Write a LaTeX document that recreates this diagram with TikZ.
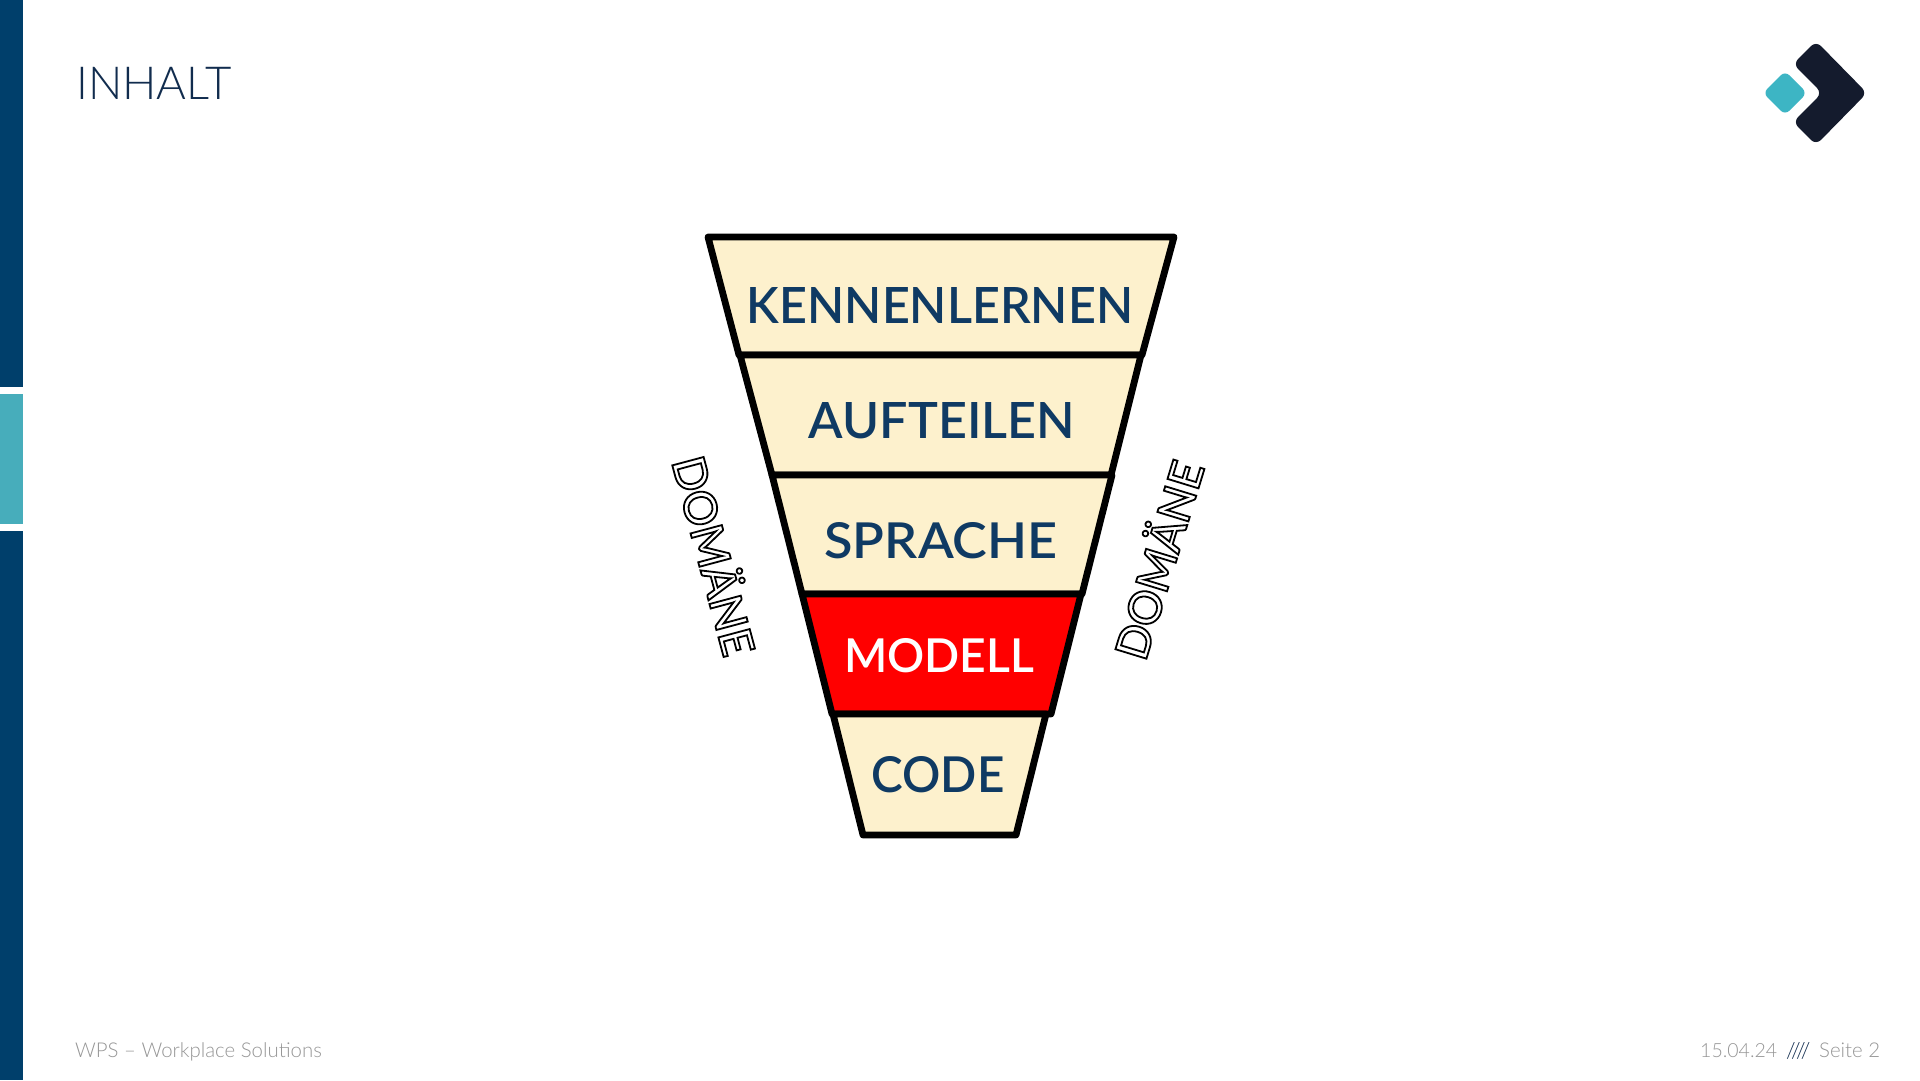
\documentclass[tikz,border=0pt]{standalone}
\usepackage{fontspec}
\usepackage{graphicx}
\setmainfont{Lato}
\newfontfamily\lightf{Lato Light}
\newfontfamily\handf{Lato Semibold}
\definecolor{barblue}{HTML}{003F6B}
\definecolor{barteal}{HTML}{47ADBB}
\definecolor{logoteal}{HTML}{3DB5C4}
\definecolor{logodark}{HTML}{141B2D}
\definecolor{titleblue}{HTML}{112C4E}
\definecolor{labelblue}{HTML}{0F3A63}
\definecolor{cream}{HTML}{FDF1CD}
\definecolor{footgrey}{HTML}{969696}
\definecolor{hot}{HTML}{FF0000}
\newcommand{\fitlabel}[3]{\resizebox{#1pt}{#2pt}{\handf #3}}
\newcommand{\outlinetext}[1]{\special{pdf:code 1 Tr 1.8 w}#1\special{pdf:code 0 Tr 1 w}}
\tikzset{
  layer/.style={draw=black,line width=6.8pt,line join=round,fill=cream},
  layerhot/.style={layer,fill=hot},
  layertext/.style={inner sep=0pt,text=labelblue},
  sidelabel/.style={inner sep=0pt,font=\handf\fontsize{45}{45}\selectfont,text=black},
  foot/.style={inner sep=0pt,anchor=base west,text=footgrey,font=\lightf\fontsize{20.4}{21}\selectfont}
}
\begin{document}
\begin{tikzpicture}[x=1pt,y=-1pt]
\useasboundingbox (0,0) rectangle (1920,1080);
\fill[white] (0,0) rectangle (1920,1080);
% side bar
\fill[barblue] (0,0) rectangle (23,387);
\fill[barteal] (0,394) rectangle (23,524);
\fill[barblue] (0,531) rectangle (23,1080);
% title
\node[inner sep=0pt,anchor=base west,text=titleblue,font=\lightf\fontsize{45.5}{46}\selectfont] (title) at (76,99) {INHALT};
% logo
\fill[logoteal,rounded corners=6pt] (1785,71) -- (1807,93) -- (1785,115) -- (1763,93) -- cycle;
\fill[logodark,rounded corners=7pt] (1816,41) -- (1867,93) -- (1816,145) -- (1793,122) -- (1822,93) -- (1793,64) -- cycle;
% funnel
\draw[layer] (708,237) -- (1174,237) -- (1142,355) -- (739,355) -- cycle;
\draw[layer] (740,355) -- (1141,355) -- (1111,475) -- (772,475) -- cycle;
\draw[layer] (772,475) -- (1112,475) -- (1082,594) -- (802,594) -- cycle;
\draw[layerhot] (802,594) -- (1081,594) -- (1051,714) -- (832,714) -- cycle;
\draw[layer] (833,714) -- (1046,714) -- (1016,835) -- (863,835) -- cycle;
\node[layertext] (kennen) at (940,305) {\fitlabel{386}{36}{KENNENLERNEN}};
\node[layertext] (auf) at (942,421) {\fitlabel{266}{36}{AUFTEILEN}};
\node[layertext] (spra) at (941,541) {\fitlabel{233}{36}{SPRACHE}};
\node[layertext,text=white] (mod) at (939,656) {\fitlabel{190}{34}{MODELL}};
\node[layertext] (code) at (938,775) {\fitlabel{133}{36}{CODE}};
% side labels
\node[sidelabel,rotate=-75] (domleft) at (717,555) {\outlinetext{DOMÄNE}};
\node[sidelabel,rotate=73] (domright) at (1156,559) {\outlinetext{DOMÄNE}};
% footer
\node[foot] (footl) at (75,1057) {WPS – Workplace Solutions};
\node[foot,font=\lightf\fontsize{19.5}{20}\selectfont] (footd) at (1700,1057) {15.04.24};
\node[foot,text=titleblue,font=\lightf\fontsize{22}{22}\selectfont] (foots) at (1786,1058) {////};
\node[foot] (footp) at (1819,1057) {Seite 2};
\end{tikzpicture}
\end{document}
